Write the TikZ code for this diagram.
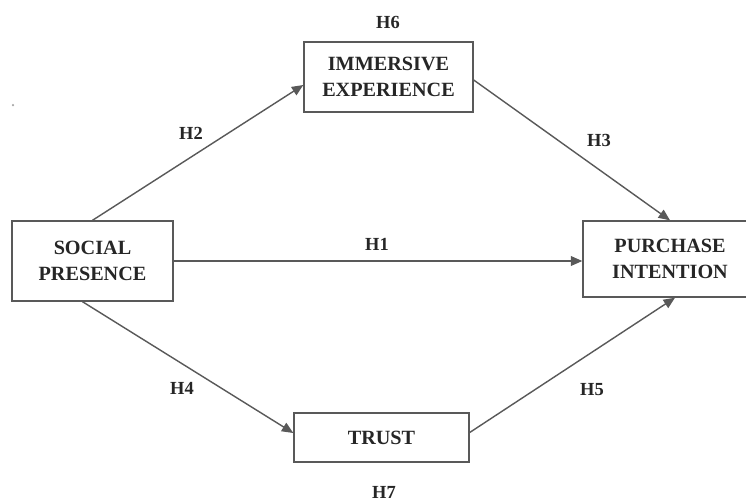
\documentclass[tikz,border=0pt]{standalone}
\usepackage{fontspec}
\setmainfont{Liberation Serif}
\usetikzlibrary{arrows.meta}
\definecolor{linegray}{gray}{0.35}
\tikzset{
  x=0.02cm, y=-0.02cm,
  box/.style={draw=linegray, line width=0.8pt, rectangle, inner sep=0pt, align=center,
    font=\fontsize{11.5}{14.5}\selectfont\bfseries, text=black!85},
  hlabel/.style={font=\fontsize{10.5}{12}\selectfont\bfseries, text=black!85, inner sep=0pt},
  link/.style={draw=linegray, line width=0.8pt},
  arr/.style={link, -{Triangle[length=6.5pt,width=5.5pt]}}
}
\begin{document}
\begin{tikzpicture}
\useasboundingbox (0,0) rectangle (746,501);
\clip (0,0) rectangle (746,501);
\fill[white] (0,0) rectangle (746,501);
\node[box, minimum width=3.22cm, minimum height=1.6cm] (soc) at (92.5,261) {SOCIAL\\PRESENCE};
\node[box, minimum width=3.38cm, minimum height=1.4cm] (imm) at (388.5,77) {IMMERSIVE\\EXPERIENCE};
\node[box, minimum width=3.48cm, minimum height=1.52cm] (pur) at (670,259) {PURCHASE\\INTENTION};
\node[box, minimum width=3.5cm, minimum height=0.98cm] (tru) at (381.5,437.5) {TRUST};
\draw[arr] (soc.north) -- ([yshift=-0.16cm]imm.west);
\draw[arr] ([yshift=-0.06cm]imm.east) -- (pur.north);
\draw[arr] (soc.east) -- (soc.east -| pur.west);
\draw[arr] ([xshift=-0.2cm]soc.south) -- ([yshift=0.09cm]tru.west);
\draw[arr] ([yshift=0.1cm]tru.east) -- ([xshift=0.1cm]pur.south);
\node[hlabel] (h6) at (388,22) {H6};
\node[hlabel] (h2) at (191,133) {H2};
\node[hlabel] (h3) at (599,140) {H3};
\node[hlabel] (h1) at (377,244) {H1};
\node[hlabel] (h4) at (182,388) {H4};
\node[hlabel] (h5) at (592,390) {H5};
\node[hlabel] (h7) at (384,492) {H7};
\fill[gray!70] (13,105) circle (0.025cm);
\end{tikzpicture}
\end{document}
